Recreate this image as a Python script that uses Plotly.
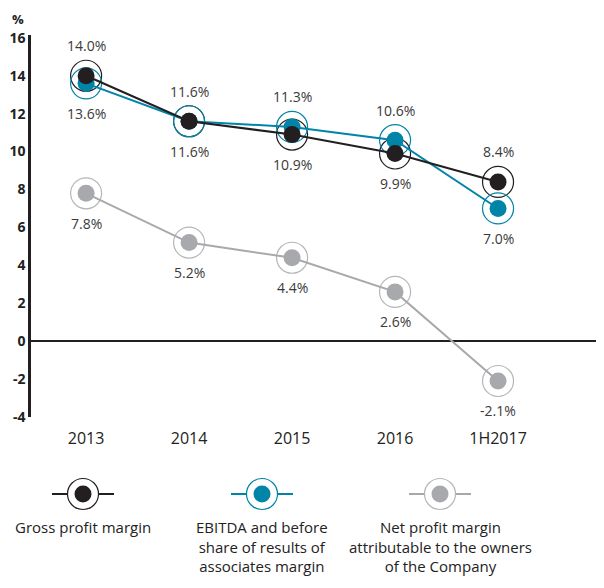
import plotly.graph_objects as go

categories = ["2013", "2014", "2015", "2016", "1H2017"]
gross = [14.0, 11.6, 10.9, 9.9, 8.4]
ebitda = [13.6, 11.6, 11.3, 10.6, 7.0]
net = [7.8, 5.2, 4.4, 2.6, -2.1]
gross_pos = ["top", "bottom", "bottom", "bottom", "top"]
ebitda_pos = ["bottom", "top", "top", "top", "bottom"]
net_pos = ["bottom"] * 5
y_ticks = [-4, -2, 0, 2, 4, 6, 8, 10, 12, 14, 16]
legend_names = ["Gross profit margin",
                "EBITDA and before<br>share of results of<br>associates margin",
                "Net profit margin<br>attributable to the owners<br>of the Company"]

BLACK = "#231f20"
TEAL = "#0084a8"
GREY = "#a8a9ac"
GREY_RING = "#b5b6b8"
FONT = "Open Sans"

# figure geometry (page has an 8px body margin)
OFF = 8
W, H = 596, 580
L, R, T, B = 23, 4, 27, 171
PW, PH = W - L - R, H - T - B


def paper(xp, yp):
    """page pixel -> paper coords"""
    xf, yf = xp - OFF, yp - OFF
    return (xf - L) / PW, (H - B - yf) / PH


series = [(gross, BLACK, BLACK, gross_pos),
          (ebitda, TEAL, TEAL, ebitda_pos),
          (net, GREY, GREY_RING, net_pos)]

xs = list(range(len(categories)))
fig = go.Figure()

for vals, col, ring, _ in series:
    fig.add_trace(go.Scatter(x=xs, y=vals, mode="markers", hoverinfo="skip",
                             marker=dict(symbol="circle-open", size=31,
                                         line=dict(color=ring, width=1.2), color=ring),
                             showlegend=False))
for vals, col, ring, _ in reversed(series):
    fig.add_trace(go.Scatter(x=xs, y=vals, mode="lines+markers",
                             line=dict(color=col, width=2),
                             marker=dict(symbol="circle", size=17, color=col),
                             showlegend=False))

annotations = []
for vals, col, ring, pos in series:
    for x, v, p in zip(xs, vals, pos):
        annotations.append(dict(x=x, y=v, xref="x", yref="y", text=f"{v:.1f}%",
                                showarrow=False, yshift=30 if p == "top" else -30,
                                font=dict(family=FONT, size=14, color="#3a3a3a")))

px_, py_ = paper(11, 9)
annotations.append(dict(x=px_, y=py_, xref="paper", yref="paper", text="<b>%</b>",
                        xanchor="left", yanchor="top", showarrow=False,
                        borderpad=0,
                        font=dict(family=FONT, size=13, color="#222")))

leg_x = [83, 262, 440]
leg_cols = [(BLACK, BLACK), (TEAL, TEAL), (GREY, GREY_RING)]
shapes = []
for cx, (col, ring), name in zip(leg_x, leg_cols, legend_names):
    pxc, pyc = paper(cx, 494)
    x0, _ = paper(cx - 31, 494)
    x1, _ = paper(cx + 31, 494)
    shapes.append(dict(type="line", xref="paper", yref="paper", x0=x0, x1=x1,
                       y0=pyc, y1=pyc, line=dict(color=col, width=2)))
    shapes.append(dict(type="circle", xref="paper", yref="paper", xsizemode="pixel",
                       ysizemode="pixel", xanchor=pxc, yanchor=pyc, x0=-15.5, x1=15.5,
                       y0=-15.5, y1=15.5, fillcolor="white",
                       line=dict(color=ring, width=1.2)))
    shapes.append(dict(type="circle", xref="paper", yref="paper", xsizemode="pixel",
                       ysizemode="pixel", xanchor=pxc, yanchor=pyc, x0=-8.5, x1=8.5,
                       y0=-8.5, y1=8.5, fillcolor=col, line=dict(color=col, width=0)))
    _, ty = paper(cx, 515)
    annotations.append(dict(x=pxc, y=ty, xref="paper", yref="paper",
                            text=name, showarrow=False, xanchor="center", yanchor="top",
                            align="center",
                            font=dict(family=FONT, size=15, color="#222")))

fig.update_layout(
    width=W, height=H,
    margin=dict(l=L, r=R, t=T, b=B),
    plot_bgcolor="white", paper_bgcolor="white",
    font=dict(family=FONT, color="#222"),
    xaxis=dict(tickmode="array", tickvals=xs, ticktext=categories,
               range=[-0.535, 4.99], showgrid=False, zeroline=False, showline=False,
               ticks="", ticklabelstandoff=10, automargin=False,
               tickfont=dict(size=16, color="#222")),
    yaxis=dict(range=[-4, 16.15], tickmode="array", tickvals=y_ticks,
               ticktext=[f"<b>{t}</b>" for t in y_ticks], showgrid=False,
               zeroline=True, zerolinecolor=BLACK, zerolinewidth=1.6,
               showline=True, linecolor=BLACK, linewidth=2.5, ticks="",
               ticklabelstandoff=0, automargin=False,
               tickfont=dict(size=14, color="#222")),
    annotations=annotations,
    shapes=shapes,
)
fig.write_html("out.html")
